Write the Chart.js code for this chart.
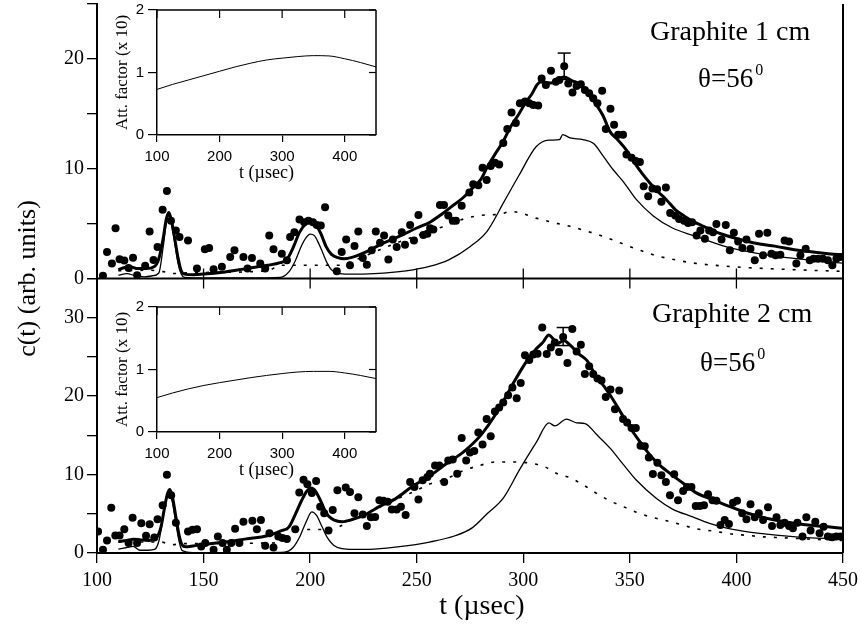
<!DOCTYPE html>
<html>
<head>
<meta charset="utf-8">
<script src="https://cdn.jsdelivr.net/npm/chart.js@4/dist/chart.umd.min.js"></script>
<style>
  html, body { margin: 0; padding: 0; background: #fff; }
  #wrap { position: relative; width: 861px; height: 629px; overflow: hidden; }
  #wrap canvas { position: absolute; }
</style>
</head>
<body>
<div id="wrap">
  <canvas id="main" width="861" height="629" style="left:0;top:0;width:861px;height:629px"></canvas>
  <canvas id="inset1" width="290" height="190" style="left:100px;top:0;width:290px;height:190px"></canvas>
  <canvas id="inset2" width="290" height="190" style="left:100px;top:297px;width:290px;height:190px"></canvas>
</div>
<script>
// ---------- measured counts, graphite 1 cm ----------
const tTop = [102.8,104.7,107.0,108.7,110.6,112.8,114.8,116.9,118.8,122.6,124.7,126.5,128.4,130.8,132.8,134.7,137.0,138.7,142.7,146.9,
  150.6,152.6,154.7,158.6,162.5,164.5,168.7,170.6,172.7,176.6,178.9,180.8,182.8,186.7,189.1,190.6,192.6,195.0,197.2,199.2,
  201.3,203.1,205.0,207.0,212.5,214.8,216.9,218.7,220.8,222.6,224.7,226.6,228.9,230.8,232.8,234.7,236.7,238.8,240.6,243.0,
  244.5,246.9,248.7,250.8,253.1,255.0,256.3,257.8,260.9,262.8,264.8,266.9,268.4,271.1,274.7,276.5,278.9,280.9,282.8,284.7,
  286.7,288.7,290.6,292.5,294.5,296.5,298.4,300.8,302.8,304.7,307.0,308.6,310.6,313.0,315.3,316.9,319.2,321.1,323.1,325.0,
  327.0,328.9,330.9,332.8,334.8,337.0,338.7,340.9,342.6,344.5,346.8,348.4,350.8,352.8,354.7,356.5,358.6,360.6,362.8,364.8,
  366.9,368.9,371.3,373.1,375.4,377.3,379.2,381.3,383.1,385.2,387.2,389.0,390.6,393.0,395.0,396.9,398.8,400.8,402.8,404.7,
  406.6,408.6,410.6,412.5,414.5,416.4,418.4,420.6,422.6,424.7,428.1,430.0,432.5,434.4,436.2,438.3,440.6,442.9,445.0,446.9,
  448.8];
const cTop = [0.24,2.41,1.36,4.58,1.75,1.63,0.95,1.9,0.3,1.15,4.28,1.69,2.86,6.27,7.98,5.27,4.37,3.77,3.47,0.9,
  2.66,2.77,0.85,1.06,1.96,2.57,1.96,0.9,1.87,1.36,0.9,3.92,2.66,2.26,1.66,3.77,4.22,5.37,5.12,5.27,
  5.12,4.88,4.82,6.48,0.67,2.41,3.56,1.21,2.95,4.28,1.87,1.26,2.57,4.28,3.25,3.92,1.72,3.56,2.86,4.22,
  3.07,4.88,3.47,5.78,3.97,4.07,4.58,4.46,6.69,6.69,5.73,5.27,5.27,6.63,7.83,8.58,8.49,10.09,8.98,10.24,
  10.54,10.39,12.35,13.61,15.12,14.16,15.96,16.12,15.96,15.81,15.75,18.22,17.62,18.92,17.92,18.07,19.33,17.77,16.93,17.53,
  17.7,17.16,16.87,16.41,15.96,17.11,13.61,15.45,14.0,13.1,13.1,11.29,10.99,10.69,10.6,8.4,7.5,8.2,8.13,6.99,
  8.28,5.96,5.73,5.42,5.27,5.06,5.12,3.92,4.37,3.61,4.37,4.22,4.97,3.56,4.88,2.57,4.16,3.38,2.77,3.56,
  2.71,1.66,4.07,2.11,4.16,2.26,2.11,2.17,3.47,3.38,1.36,2.11,2.71,1.66,1.81,1.81,1.81,1.66,1.21,1.81,
  1.96];

// total fit (thick), first component (thin), second component (dotted)
const tFitTop = [110,113,116,119,123,127,129,131,132.5,133.7,
  135,136.5,138,139.5,141,145,150,160,170,180,
  186,189,192,195,198,200,202.5,205,207.5,210,
  213,216,220,226,234,242,250,256,262,266,
  272,276,280,283,287,290.6,294,298,301,304,
  306.3,308,311,313,316,319,323,326.6,330,334,
  337.5,340.6,344,348.4,352,356,359.4,363,367,371.7,
  375.5,379.5,383.5,387.3,393,400,405,410.9,418,426.5,
  434,442,450];
const fitTop = [0.8,1.0,1.05,0.9,0.9,1.1,1.8,3.6,5.4,6.0,
  5.2,3.6,1.9,0.7,0.4,0.35,0.4,0.6,0.9,1.2,
  1.45,1.7,2.8,4.2,5.0,5.15,4.9,4.1,2.9,2.2,
  1.9,1.8,1.95,2.4,3.2,3.85,4.6,5.1,5.9,6.5,
  7.4,8.2,9.0,10.1,11.4,12.5,13.8,15.0,16.0,16.8,
  17.6,17.9,17.85,17.8,18.05,18.35,18.0,17.7,16.9,15.9,
  14.8,13.4,12.7,11.7,10.6,9.5,8.7,7.95,7.2,6.2,
  5.7,5.2,4.85,4.5,4.05,3.65,3.4,3.15,2.95,2.65,
  2.45,2.28,2.15];

const tThinTop = [110,114,118,122,126,129,131,132.5,133.7,135,
  136.5,138,139.5,141,150,170,186,190,193,196,
  198,200,202,204,206,208,210,213,218,230,
  245,256,265,275,283,291,298,306,312,317,
  318.5,322,328,333,337.5,342,347,353,361,370,
  380,395,411,426,450];
const thinTop = [0.3,0.45,0.25,0.15,0.25,0.5,2.8,5.0,5.7,4.9,
  3.2,1.4,0.4,0.1,0.05,0.05,0.1,0.6,1.6,3.0,
  3.7,4.05,3.9,3.2,2.3,1.4,0.8,0.5,0.4,0.45,
  0.7,1.1,1.7,2.9,4.3,7.0,9.4,12.0,12.6,12.65,
  13.1,12.8,12.65,12.3,11.15,9.95,8.8,7.2,5.7,4.6,
  3.9,2.9,2.25,1.85,1.4];

const tDotTop = [110,125,132,136,140,150,180,186,200,214,
  220,230,240,250,262,270,280,289,294,299,
  306,314,322,330,338,346,353,362,370,380,
  390,400,415,430,450];
const dotTop = [0.7,0.75,0.6,0.45,0.5,0.55,0.7,1.2,1.2,1.2,
  1.6,2.4,3.2,3.9,4.7,5.3,5.75,5.85,6.1,5.95,
  5.5,5.1,4.75,4.3,3.8,3.2,2.7,2.1,1.75,1.4,
  1.2,1.05,0.9,0.78,0.65];

// ---------- measured counts, graphite 2 cm ----------
const tBot = [100.5,102.8,104.7,106.7,108.6,110.6,112.8,114.8,116.7,118.8,120.8,123.0,124.7,126.9,128.4,130.8,132.8,134.8,137.0,142.7,
  144.8,146.9,148.9,150.8,154.7,156.7,158.9,160.9,163.0,164.8,166.8,168.7,172.9,175.0,176.9,178.9,180.9,182.8,185.1,187.0,
  189.1,193.0,194.9,196.9,198.7,200.8,202.8,204.7,206.6,208.6,210.6,212.8,216.7,218.7,220.8,222.6,224.7,226.6,228.5,230.5,
  232.5,234.4,236.4,238.3,240.6,242.6,244.8,246.9,248.9,250.8,252.8,255.0,256.2,258.6,260.6,262.9,264.8,266.9,269.0,271.1,
  273.2,275.0,277.0,278.9,280.9,282.8,284.7,286.7,288.7,290.6,292.9,294.9,296.9,298.8,300.8,302.8,304.7,306.7,308.9,311.0,
  312.9,314.8,316.8,318.7,320.7,323.0,325.0,327.0,328.9,330.9,332.8,334.8,336.7,338.7,340.9,343.0,345.0,346.8,348.7,350.8,
  352.8,355.0,357.0,358.9,360.8,362.9,364.8,366.9,368.8,370.8,372.6,375.0,376.8,378.9,380.9,382.8,384.8,386.7,388.8,390.6,
  392.5,394.5,396.5,398.4,400.3,402.7,404.7,406.6,408.6,410.5,412.5,414.8,416.7,418.8,420.6,422.6,424.7,426.5,428.6,431.0,
  432.8,434.8,437.0,439.0,440.9,442.9,445.0,446.9,448.9];
const cBot = [2.73,0.42,1.6,5.77,2.23,2.23,3.03,1.26,4.5,1.26,3.79,2.19,3.67,1.97,4.3,6.1,9.99,7.37,3.87,2.73,
  2.95,3.03,0.83,1.26,0.42,2.1,1.26,0.42,1.26,3.1,1.26,4.0,4.12,3.03,4.21,0.92,2.53,0.7,2.1,1.9,
  1.77,3.03,7.71,9.35,8.76,7.66,9.18,5.89,5.06,2.86,5.47,8.0,8.34,7.79,5.06,7.1,4.9,3.45,4.55,4.6,
  6.74,6.65,6.52,5.56,5.56,5.89,4.84,9.05,8.42,6.83,9.27,9.68,10.11,11.16,11.16,9.05,11.8,11.92,10.11,14.66,
  11.8,12.8,13.0,15.37,13.82,17.07,14.9,18.05,18.55,19.2,20.1,21.1,19.72,21.69,25.2,24.6,25.3,25.4,28.75,25.36,
  26.2,26.85,25.64,27.55,24.22,28.57,25.7,26.55,22.83,23.8,22.83,22.25,22.0,19.89,20.86,18.33,20.73,17.07,16.64,15.93,
  15.93,13.69,13.6,12.17,10.07,11.5,9.9,9.05,7.37,10.03,6.74,7.92,8.42,8.42,5.98,5.98,6.1,7.5,6.74,6.65,
  3.58,4.21,3.7,6.4,6.65,5.06,4.3,6.23,4.55,5.06,4.21,5.82,3.45,4.55,3.58,3.87,3.45,3.16,3.87,2.1,
  4.55,2.86,4.0,2.53,3.36,2.1,2.02,2.1,2.1];

const tFitBot = [110,114,117,120,124,128,130,131.5,133,134.2,
  135.5,137,138.5,140,141.5,145,150,160,170,180,
  186,190,193,196,198.5,200.5,202.5,205,207.5,210,
  213,215,220,226,233,240,248,256,264,272,
  280,288,295,300,303,306,309,312,314,316,
  319,322,326,330,334,338,342,346,350,355,
  360,364,370,375,381,389,397,405,413,420,
  428,436,444,450];
const fitBot = [1.45,1.6,1.75,1.7,1.6,2.0,3.3,5.5,7.5,8.1,
  7.0,4.6,2.3,1.0,0.8,0.9,1.1,1.4,1.8,2.2,
  2.8,3.3,4.9,6.7,7.9,8.3,7.9,6.6,5.1,4.4,
  4.05,4.0,4.3,4.9,6.0,6.9,8.5,9.8,11.4,12.9,
  15.0,18.1,21.5,23.8,25.0,26.0,26.8,27.8,27.3,26.7,
  27.1,26.5,25.4,24.5,22.6,21.2,19.6,17.8,16.0,14.1,
  12.3,11.2,9.9,8.9,7.7,6.8,5.9,5.1,4.5,4.1,
  3.75,3.5,3.3,3.15];

const tThinBot = [110,114,117,120,124,127,129,131,132.5,134,
  135.5,137,138.5,140,145,160,180,188,192,195,
  198,200.8,203,205.5,208,211,215,220,230,242,
  256,268,276,283,290.6,298.4,306.3,312,314.8,320.3,
  325,329,334.4,340.6,346.9,353,362.5,370,379.5,387,
  395,403,411,426.5,450];
const thinBot = [0.5,0.7,0.85,0.35,0.35,0.45,1.5,4.5,6.8,7.6,
  6.3,3.8,1.5,0.3,0.05,0.05,0.05,0.1,0.7,2.0,
  3.9,5.25,4.8,3.4,2.0,1.0,0.55,0.45,0.5,0.8,
  1.4,2.2,3.2,5.0,7.0,10.7,14.2,16.6,16.2,17.07,
  16.6,16.5,15.1,13.4,11.3,9.3,6.95,5.6,4.6,3.8,
  3.2,2.8,2.5,2.1,1.75];

const tDotBot = [110,130,135,140,185,188,210,214,220,230,
  240,250,256,262.5,272,280,287,295,302,310,
  316,322,328,334.4,341,347,353,361,366,373,
  381,389,397,405,413,421,430,440,450];
const dotBot = [1.4,1.4,1.05,1.2,1.3,3.0,3.0,3.4,4.3,5.5,
  6.8,8.0,8.8,9.3,10.5,11.2,11.6,11.6,11.5,11.0,
  10.1,9.6,8.7,7.6,6.6,5.9,5.2,4.5,4.2,3.7,
  3.1,2.8,2.45,2.25,2.05,1.95,1.83,1.7,1.6];

// error bars at the maxima: time, value, half-width
const errTopT = [319.2], errTopV = [19.33], errTopD = [1.2];
const errBotT = [318.7], errBotV = [27.6],  errBotD = [1.15];

// attenuation factors (x 10) for the insets
const tAtt = [100,125,150,175,200,225,250,275,300,325,350,375,400,425,450];
const att1 = [0.73,0.81,0.88,0.95,1.02,1.09,1.15,1.20,1.23,1.255,1.27,1.265,1.22,1.16,1.09];
const att2 = [0.55,0.625,0.69,0.745,0.79,0.83,0.87,0.905,0.935,0.96,0.97,0.97,0.945,0.905,0.855];

// text shown on the figure
const panelTitles = ['Graphite 1 cm', 'Graphite 2 cm'];
const angleText = 'θ=56';
const angleSup = '0';
const yTitle = 'c(t) (arb. units)';
const xTitle = 't (µsec)';
const insetYTitle = 'Att. factor (x 10)';

// ---------- helpers ----------
const SERIF = "'Liberation Serif', 'Times New Roman', serif";
const SANS = "'Liberation Sans', Arial, sans-serif";
Chart.defaults.font.family = SERIF;
Chart.defaults.color = '#000';

const zip = (xs, ys) => xs.map((x, i) => ({ x: x, y: ys[i] }));
const dots = (xs, ys, axis) => ({
  data: zip(xs, ys), yAxisID: axis, showLine: false,
  pointRadius: 4, pointHoverRadius: 4, pointBorderWidth: 0,
  pointBackgroundColor: '#000', backgroundColor: '#000', borderColor: '#000'
});
const curve = (xs, ys, axis, width, dash) => ({
  data: zip(xs, ys), yAxisID: axis, showLine: true, pointRadius: 0,
  borderColor: '#000', borderWidth: width, borderDash: dash || [],
  borderCapStyle: 'butt', fill: false, cubicInterpolationMode: 'monotone'
});

function seg(ctx, x1, y1, x2, y2) {
  ctx.beginPath(); ctx.moveTo(x1, y1); ctx.lineTo(x2, y2); ctx.stroke();
}

// frame pieces, error bars and labels of the two stacked panels
const panelFrame = {
  id: 'panelFrame',
  afterDatasetsDraw(chart) {
    const { ctx, scales } = chart;
    const x = scales.x;
    ctx.save();
    ctx.strokeStyle = '#000';
    ctx.lineWidth = 1.5;
    [[scales.yTop, errTopT, errTopV, errTopD], [scales.yBot, errBotT, errBotV, errBotD]].forEach(([y, ts, vs, ds]) => {
      ts.forEach((t, i) => {
        const px = x.getPixelForValue(t);
        const hi = y.getPixelForValue(vs[i] + ds[i]);
        const lo = y.getPixelForValue(vs[i] - ds[i]);
        seg(ctx, px, hi, px, lo);
        seg(ctx, px - 6.5, hi, px + 6.5, hi);
        seg(ctx, px - 6.5, lo, px + 6.5, lo);
      });
    });
    ctx.restore();
  },
  afterDraw(chart) {
    const { ctx, chartArea: a, scales } = chart;
    const x = scales.x;
    const yDiv = scales.yTop.getPixelForValue(0);
    ctx.save();
    ctx.strokeStyle = '#000';
    ctx.lineWidth = 2;
    seg(ctx, a.left, yDiv, a.right, yDiv);
    seg(ctx, a.right, a.top, a.right, a.bottom);
    ctx.lineWidth = 1.3;
    x.ticks.forEach(t => {
      const px = x.getPixelForValue(t.value);
      if (px > a.left + 1 && px < a.right - 1) seg(ctx, px, yDiv - 10, px, yDiv + 10);
    });

    ctx.fillStyle = '#000';
    // shared y title
    ctx.save();
    ctx.translate(28, (a.top + a.bottom) / 2);
    ctx.rotate(-Math.PI / 2);
    ctx.font = '26px ' + SERIF;
    ctx.textAlign = 'center';
    ctx.textBaseline = 'middle';
    ctx.fillText(yTitle, 0, 0);
    ctx.restore();

    // x title, centred a little right of the axis middle
    ctx.font = '28px ' + SERIF;
    ctx.textAlign = 'center';
    ctx.textBaseline = 'middle';
    ctx.fillText(xTitle, 482, 607);

    // panel labels
    ctx.textAlign = 'left';
    ctx.textBaseline = 'alphabetic';
    const spots = [{ tx: 650, ty: 40, ax: 698, ay: 87 }, { tx: 652, ty: 321.5, ax: 700, ay: 370.5 }];
    spots.forEach((s, i) => {
      ctx.font = '28px ' + SERIF;
      ctx.fillText(panelTitles[i], s.tx, s.ty);
      ctx.font = '27px ' + SERIF;
      ctx.fillText(angleText, s.ax, s.ay);
      const w = ctx.measureText(angleText).width;
      ctx.font = '16px ' + SERIF;
      ctx.fillText(angleSup, s.ax + w + 2, s.ay - 12);
    });
    ctx.restore();
  }
};

const axisGrid = { drawOnChartArea: false, drawTicks: true, color: '#000', lineWidth: 1.3, tickLength: 10 };
const axisBorder = { display: true, color: '#000', width: 2 };

new Chart(document.getElementById('main'), {
  type: 'line',
  data: {
    datasets: [
      dots(tTop, cTop, 'yTop'),
      curve(tFitTop, fitTop, 'yTop', 3),
      curve(tThinTop, thinTop, 'yTop', 1.3),
      curve(tDotTop, dotTop, 'yTop', 1.6, [3, 8]),
      dots(tBot, cBot, 'yBot'),
      curve(tFitBot, fitBot, 'yBot', 3),
      curve(tThinBot, thinBot, 'yBot', 1.3),
      curve(tDotBot, dotBot, 'yBot', 1.6, [3, 8])
    ]
  },
  options: {
    responsive: false,
    devicePixelRatio: 1,
    animation: false,
    events: [],
    layout: { padding: { left: 0, right: 18, top: 0, bottom: 0 } },
    plugins: { legend: { display: false }, tooltip: { enabled: false } },
    scales: {
      x: {
        type: 'linear', min: 100, max: 450,
        ticks: { stepSize: 50, font: { size: 20 }, padding: 6, maxRotation: 0, autoSkip: false },
        grid: axisGrid, border: axisBorder,
        title: { display: false },
        afterFit(s) { s.height = 76; s.paddingLeft = 0; s.paddingRight = 0; }
      },
      yBot: {
        type: 'linear', position: 'left', stack: 'panels', stackWeight: 1, min: 0, max: 35,
        ticks: { stepSize: 5, font: { size: 20 }, padding: 3, autoSkip: false,
                 callback: v => (v % 10 === 0 ? String(v) : '') },
        grid: axisGrid, border: axisBorder,
        afterFit(s) { s.width = 97; s.paddingTop = 0; s.paddingBottom = 0; }
      },
      yTop: {
        type: 'linear', position: 'left', stack: 'panels', stackWeight: 1, min: 0, max: 25,
        ticks: { stepSize: 5, font: { size: 20 }, padding: 3, autoSkip: false,
                 callback: v => (v % 10 === 0 ? String(v) : '') },
        grid: axisGrid, border: axisBorder,
        afterFit(s) { s.width = 97; s.paddingTop = 0; s.paddingBottom = 0; }
      }
    }
  },
  plugins: [panelFrame]
});

// ---------- insets ----------
const insetFrame = {
  id: 'insetFrame',
  afterDraw(chart) {
    const { ctx, chartArea: a, scales: { x, y } } = chart;
    ctx.save();
    ctx.strokeStyle = '#000';
    ctx.lineWidth = 1.5;
    seg(ctx, a.left, a.top, a.right, a.top);
    seg(ctx, a.right, a.top, a.right, a.bottom);
    ctx.lineWidth = 1.2;
    x.ticks.forEach(t => {
      const px = x.getPixelForValue(t.value);
      seg(ctx, px, a.top, px, a.top + 8);
    });
    y.ticks.forEach(t => {
      const py = y.getPixelForValue(t.value);
      seg(ctx, a.right, py, a.right - 7, py);
    });
    ctx.restore();
  }
};

function insetChart(id, vals) {
  return new Chart(document.getElementById(id), {
    type: 'line',
    data: { datasets: [{ data: zip(tAtt, vals), borderColor: '#000', borderWidth: 1, pointRadius: 0,
                         fill: false, cubicInterpolationMode: 'monotone' }] },
    options: {
      responsive: false,
      devicePixelRatio: 1,
      animation: false,
      events: [],
      layout: { padding: { left: 0, right: 14, top: 10, bottom: 0 } },
      plugins: { legend: { display: false }, tooltip: { enabled: false } },
      scales: {
        x: {
          type: 'linear', min: 100, max: 450,
          ticks: { stepSize: 100, includeBounds: false, font: { family: SANS, size: 15 }, padding: 6, maxRotation: 0 },
          grid: { drawOnChartArea: false, color: '#000', lineWidth: 1.2, tickLength: 7 },
          border: { display: true, color: '#000', width: 1.5 },
          title: { display: true, text: xTitle, font: { size: 18 }, padding: { top: 0, bottom: 6 } },
          afterFit(s) { s.height = 55; s.paddingLeft = 0; s.paddingRight = 0; }
        },
        y: {
          type: 'linear', min: 0, max: 2,
          ticks: { stepSize: 1, font: { family: SANS, size: 15 }, padding: 4 },
          grid: { drawOnChartArea: false, color: '#000', lineWidth: 1.2, tickLength: 9 },
          border: { display: true, color: '#000', width: 1.5 },
          title: { display: true, text: insetYTitle, font: { size: 17 }, padding: { top: 12, bottom: 0 } },
          afterFit(s) { s.width = 57; s.paddingTop = 0; s.paddingBottom = 0; }
        }
      }
    },
    plugins: [insetFrame]
  });
}
insetChart('inset1', att1);
insetChart('inset2', att2);
</script>
</body>
</html>
